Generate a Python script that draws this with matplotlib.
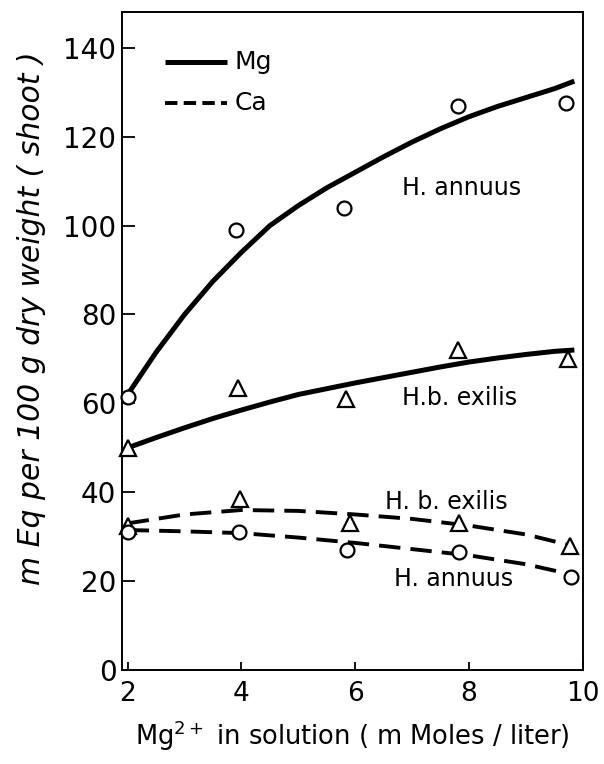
import matplotlib
matplotlib.use("Agg")
import matplotlib.pyplot as plt

# measured points (Mg2+ in solution, m Moles/liter), as placed on the figure
x_mg_annuus = [2, 3.9, 5.8, 7.8, 9.7]
mg_annuus = [61.5, 99, 104, 127, 127.5]
x_mg_exilis = [2, 3.93, 5.84, 7.8, 9.74]
mg_exilis = [50, 63.5, 61, 72, 70]
x_ca_exilis = [2, 3.98, 5.9, 7.83, 9.78]
ca_exilis = [32.5, 38.5, 33, 33, 28]
x_ca_annuus = [2, 3.95, 5.86, 7.83, 9.8]
ca_annuus = [31, 31, 27, 26.5, 21]

# fitted curves
x_fit_mg = [2, 2.5, 3, 3.5, 4, 4.5, 5, 5.5, 6, 6.5, 7, 7.5, 8, 8.5, 9, 9.5, 9.85]
mg_annuus_fit = [62, 71.5, 80, 87.5, 94, 100, 104.5, 108.5, 112, 115.5, 118.8,
                 121.8, 124.5, 126.8, 128.8, 130.8, 132.5]
mg_exilis_fit = [50, 52.3, 54.5, 56.6, 58.5, 60.3, 62, 63.3, 64.6, 65.8, 67,
                  68.2, 69.3, 70.2, 71, 71.7, 72]
x_fit_ca = [2, 3, 4, 5, 6, 7, 8, 9, 9.8]
ca_exilis_fit = [33, 35, 36, 35.8, 35, 34, 32.5, 30.5, 28]
ca_annuus_fit = [31.5, 31.2, 30.8, 29.8, 28.6, 27.2, 25.8, 23.8, 21.5]

xticks = [2, 4, 6, 8, 10]
yticks = [0, 20, 40, 60, 80, 100, 120, 140]

fig = plt.figure(figsize=(6.04, 7.64), dpi=100)
ax = fig.add_axes([0.202, 0.123, 0.763, 0.861])

mk = dict(linestyle="none", markerfacecolor="white", markeredgecolor="black",
          markeredgewidth=1.6, zorder=3, clip_on=False)

ax.plot(x_fit_mg, mg_annuus_fit, color="black", lw=3.6, solid_capstyle="butt")
ax.plot(x_fit_mg, mg_exilis_fit, color="black", lw=3.6, solid_capstyle="butt")
ax.plot(x_fit_ca, ca_exilis_fit, color="black", lw=2.8, dashes=(5.5, 2.6))
ax.plot(x_fit_ca, ca_annuus_fit, color="black", lw=2.8, dashes=(5.5, 2.6))

ax.plot(x_mg_annuus, mg_annuus, marker="o", markersize=10, **mk)
ax.plot(x_mg_exilis, mg_exilis, marker="^", markersize=11, **mk)
ax.plot(x_ca_exilis, ca_exilis, marker="^", markersize=11, **mk)
ax.plot(x_ca_annuus, ca_annuus, marker="o", markersize=10, **mk)

# legend drawn by hand
ax.plot([2.65, 3.75], [136.7, 136.7], color="black", lw=3.6, solid_capstyle="butt")
ax.plot([2.65, 3.75], [127.5, 127.5], color="black", lw=2.8, dashes=(3.2, 1.6))
ax.text(3.88, 136.7, "Mg", fontsize=18, va="center", ha="left")
ax.text(3.88, 127.5, "Ca", fontsize=18, va="center", ha="left")

ax.text(7.86, 108.5, "H. annuus", fontsize=17, ha="center", va="center")
ax.text(7.83, 61.2, "H.b. exilis", fontsize=17, ha="center", va="center")
ax.text(7.6, 37.8, "H. b. exilis", fontsize=17, ha="center", va="center")
ax.text(7.72, 20.5, "H. annuus", fontsize=17, ha="center", va="center")

ax.set_xlim(1.9, 9.95)
ax.set_ylim(0, 148)
ax.set_xticks(xticks)
ax.set_yticks(yticks)
ax.set_xticklabels([str(v) for v in xticks], fontsize=19)
ax.set_yticklabels([str(v) for v in yticks], fontsize=20)
ax.tick_params(axis="y", direction="in", length=9.5, width=1.3, pad=4)
ax.tick_params(axis="x", direction="in", length=6, width=1.3, pad=8)
for s in ax.spines.values():
    s.set_linewidth(1.4)

ax.set_xlabel("Mg$^{2+}$ in solution ( m Moles / liter)", fontsize=18.5, labelpad=8)
ax.set_ylabel("m Eq per 100 g dry weight ( shoot )", fontsize=21.5, style="italic")
ax.yaxis.set_label_coords(-0.165, 0.535)

fig.savefig("out.png", dpi=100)
